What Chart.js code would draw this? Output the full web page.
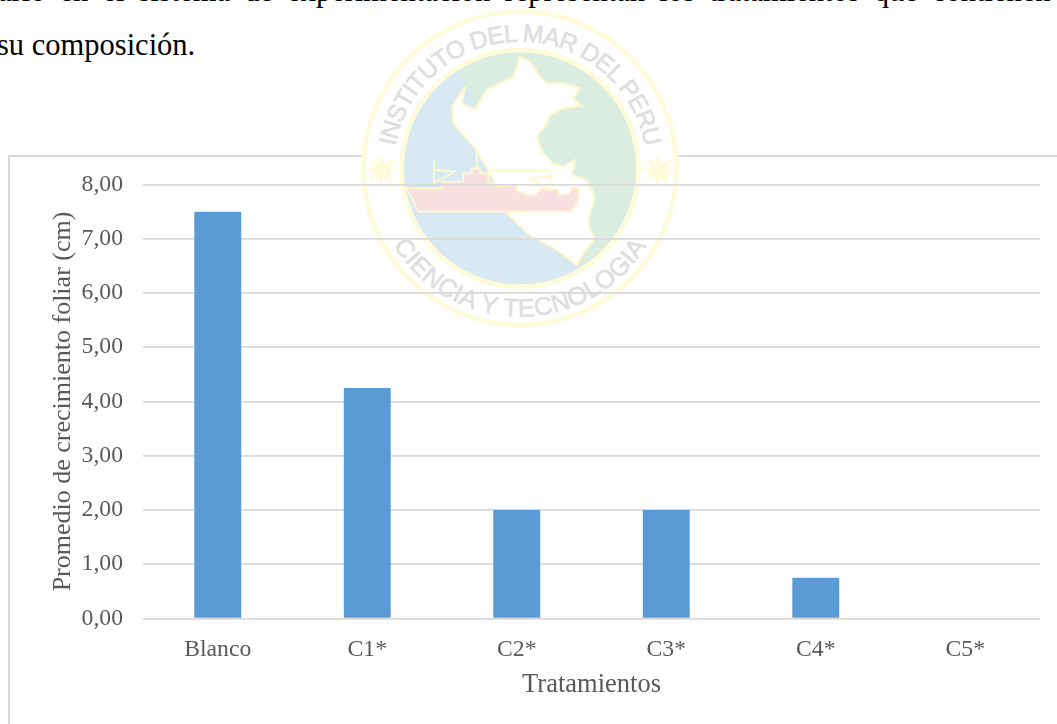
<!DOCTYPE html>
<html lang="es">
<head>
<meta charset="utf-8">
<title>Promedio de crecimiento foliar</title>
<script src="https://cdn.jsdelivr.net/npm/chart.js@4/dist/chart.umd.min.js"></script>
<style>
html,body{margin:0;padding:0;background:#fff;overflow:hidden;width:1057px;height:724px}
.line{position:absolute;white-space:nowrap;font:30.5px "Liberation Serif",serif;color:#000}
#frame{position:absolute;left:8px;top:155px;width:1200px;height:700px;border:2px solid #d9d9d9;box-sizing:border-box}
#mark{position:absolute;left:350px;top:0;width:340px;height:340px}
canvas{position:absolute;left:0;top:0}
</style>
</head>
<body>
<div class="line" style="top:-26px;left:-2px;word-spacing:6.5px">ario en el sistema de experimentación representan los tratamientos que contienen</div>
<div class="line" style="top:28px;left:-3px">su composición.</div>
<div id="frame"></div>
<svg id="mark" viewBox="0 0 1020 1020">
  <defs>
    <clipPath id="disc"><circle cx="510" cy="505" r="350"/></clipPath>
    <path id="arcTop" d="M 130 505 A 380 380 0 0 1 890 505"/>
    <path id="arcBot" d="M 65 505 A 445 445 0 0 0 955 505"/>
  </defs>
  <circle cx="510" cy="505" r="470" fill="#fff" stroke="#fdfbd9" stroke-width="14"/>
  <g clip-path="url(#disc)">
    <circle cx="510" cy="505" r="350" fill="#d9e9f4"/>
    <polygon fill="#dbece0" points="315,215 350,255 375,330 500,300 600,500 680,800 900,800 900,100 315,100"/>
    <polygon fill="#fff" stroke="#fdf8cc" stroke-width="6" points="510,170 540,185 570,230 590,250 640,250 690,265 670,295 695,318 640,325 600,345 585,380 560,410 580,460 610,490 640,500 675,480 665,525 710,540 735,590 720,640 715,680 735,715 700,760 680,795 620,750 540,705 475,645 430,540 380,450 310,370 305,320 345,260 335,310 375,330 410,270 490,230"/>
    <polygon fill="#f8e0e0" stroke="#fdf8cc" stroke-width="5" points="170,565 275,565 275,545 340,545 340,520 365,520 365,505 390,505 390,520 415,520 415,545 440,560 500,555 500,570 530,585 560,585 570,565 625,570 625,585 660,580 665,560 685,565 685,605 665,635 205,635"/>
    <path fill="none" stroke="#fdf8cc" stroke-width="5" d="M252 482V548L315 515L252 510M380 450V505M600 510V570L540 535L600 530M420 512H600"/>
  </g>
  <circle cx="510" cy="505" r="355" fill="none" stroke="#fdfbd9" stroke-width="14"/>
  <g fill="#fdfbd9">
    <polygon points="95,460 104,490 140,475 118,505 145,512 118,520 130,555 100,532 92,562 85,530 55,548 72,518 45,510 75,502 58,475 88,490"/>
    <polygon points="925,460 934,490 970,475 948,505 975,512 948,520 960,555 930,532 922,562 915,530 885,548 902,518 875,510 905,502 888,475 918,490"/>
  </g>
  <g fill="#dedede" stroke="#dedede" stroke-width="1.5" font-family="Liberation Sans, sans-serif">
    <text font-size="74" letter-spacing="-2.5"><textPath href="#arcTop" startOffset="50%" text-anchor="middle">INSTITUTO DEL MAR DEL PERU</textPath></text>
    <text font-size="76" letter-spacing="1"><textPath href="#arcBot" startOffset="50%" text-anchor="middle">CIENCIA Y TECNOLOGIA</textPath></text>
  </g>
</svg>
<canvas id="chart" width="1057" height="724"></canvas>
<script>
const categories = ["Blanco", "C1*", "C2*", "C3*", "C4*", "C5*"];
const values = [7.5, 4.25, 2, 2, 0.75, 0];
const xTitle = "Tratamientos";
const yTitle = "Promedio de crecimiento foliar (cm)";
const serif = "'Liberation Serif', serif";
const ink = "#595959";
const rule = "#d9d9d9";

new Chart(document.getElementById("chart"), {
  type: "bar",
  data: {
    labels: categories,
    datasets: [{ data: values, backgroundColor: "#5b9bd5", borderWidth: 0,
                 barPercentage: 0.314, categoryPercentage: 1 }]
  },
  options: {
    responsive: false,
    animation: false,
    layout: { padding: { left: 48, right: 17, top: 184.5, bottom: 23 } },
    plugins: { legend: { display: false }, tooltip: { enabled: false } },
    scales: {
      x: {
        grid: { display: false },
        border: { display: false },
        ticks: { color: ink, font: { family: serif, size: 23.7 }, padding: 9, maxRotation: 0 },
        title: { display: true, text: xTitle, color: ink, font: { family: serif, size: 26.5 }, padding: 0 },
        afterFit(s) { s.height = 82.5; }
      },
      y: {
        min: 0, max: 8,
        grid: { color: rule, lineWidth: 1.7, drawTicks: false },
        border: { display: false },
        ticks: { stepSize: 1, color: ink, font: { family: serif, size: 23.7 }, padding: 20,
                 callback: v => v.toFixed(2).replace(".", ",") },
        title: { display: true, text: yTitle, color: ink, font: { family: serif, size: 26 }, padding: 0 },
        afterFit(s) { s.width = 95; }
      }
    }
  }
});
</script>
</body>
</html>
